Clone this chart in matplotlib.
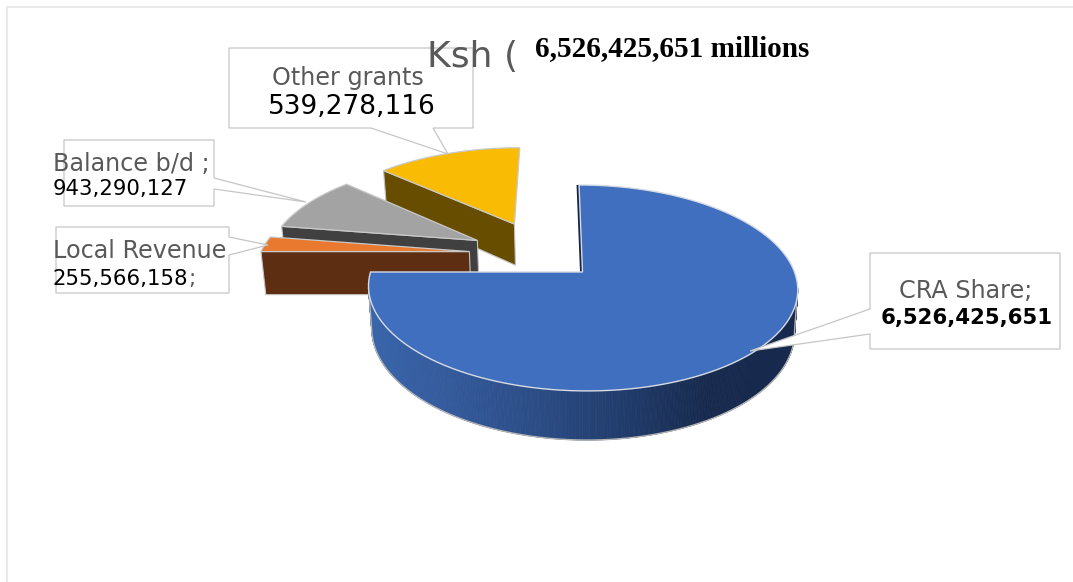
import numpy as np
import matplotlib
matplotlib.use('Agg')
import matplotlib.pyplot as plt
from matplotlib.colors import LinearSegmentedColormap

# slice shares in percent, as drawn in the picture (they do not follow the printed labels)
categories = ['CRA Share', 'Local Revenue', 'Balance b/d', 'Other grants']
shares = [75.0, 2.5, 9.2, 13.3]
names = ['CRA Share;', 'Local Revenue', 'Balance b/d ;', 'Other grants']
amounts = ['6,526,425,651', '255,566,158', '943,290,127', '539,278,116']
title_left = 'Ksh ('
title_over = '6,526,425,651 millions'

# look of the slices
top_colors = ['#3f6fbe', '#e8792e', '#a3a3a3', '#f9bb04']
side_colors = ['#1c3360', '#5e2e12', '#404040', '#664d00']
explode = [(0.0, 0.0), (-0.547, 0.21), (-0.515, 0.33), (-0.337, 0.515)]

# projection of the pie disc on the picture
x0, y0 = 582.5, 272
rx, ry, persp, lean = 212, 100.5, 0.155, 4
depth, depth_out, shrink = 41.5, 44.5, 0.985


def project(u, v, low=False, d=depth):
    w = 1 + persp * v
    x = (rx * u - lean * v) / w
    y = y0 - ry * v / w
    if low:
        return x0 + shrink * x, y + d / w
    return x0 + x, y


def slice_top(a0, a1, off, r=1.0):
    t = np.radians(np.linspace(a0, a1, 120))
    u = np.r_[0, r * np.sin(t)] + off[0]
    v = np.r_[0, r * np.cos(t)] + off[1]
    return u, v


fig = plt.figure(figsize=(10.73, 5.82), dpi=100)
ax = fig.add_axes([0, 0, 1, 1])
ax.set_xlim(0, 1073)
ax.set_ylim(582, 0)
ax.axis('off')

# chart frame
ax.plot([7, 7, 1073], [582, 7, 7], color='#e9e9e9', lw=1.5, zorder=1)

edges = np.cumsum(np.r_[0, shares]) * 3.6

# exploded slices, back to front
z = 2
for i in [3, 2, 1]:
    off = explode[i]
    a0, a1 = edges[i], edges[i + 1]
    a = np.radians(a0)
    u = np.array([1.015 * np.sin(a), 0]) + off[0]
    v = np.array([1.015 * np.cos(a), 0]) + off[1]
    xt, yt = project(u, v)
    xb, yb = project(u, v, low=True, d=depth_out)
    ax.fill(np.r_[xt, xb[::-1]], np.r_[yt, yb[::-1]], fc=side_colors[i], ec='#c4c4c4', lw=0.8, zorder=z)
    u, v = slice_top(a0, a1, off, r=1.015)
    xt, yt = project(u, v)
    ax.fill(xt, yt, fc=top_colors[i], ec='#c9c9c9', lw=0.9, zorder=z + 1)
    z += 2

# big slice: curved wall with a left to right shading, only the part in sight
wall = LinearSegmentedColormap.from_list('wall', ['#3a66ab', '#33599a', '#2b4c85', '#213c6c',
                                                  '#172a4e', '#172a4e'])
t = np.radians(np.linspace(99, 261, 400))
xt, yt = project(np.sin(t), np.cos(t))
xb, yb = project(np.sin(t), np.cos(t), low=True)
for j in range(len(t) - 1):
    col = wall(1 - np.clip((792 - xt[j]) / 424, 0, 1))
    ax.fill([xt[j], xt[j + 1], xb[j + 1], xb[j]], [yt[j], yt[j + 1], yb[j + 1], yb[j]],
            fc=col, ec=col, lw=0.6, zorder=z)
ax.plot(np.r_[xt[0], xb, xt[-1]], np.r_[yt[0], yb, yt[-1]], color='#b5b5b5', lw=1.0, zorder=z)

# thin sliver of the inner wall, seen in the gap
xs, ys = project(np.array([0, 0]), np.array([1, 0]))
ax.fill(np.r_[xs, xs[::-1] - 2.5], np.r_[ys, ys[::-1]], fc='#14264a', ec='none', zorder=z)

u, v = slice_top(edges[0], edges[1], explode[0])
xt, yt = project(u, v)
ax.fill(xt, yt, fc=top_colors[0], ec='#d6dbe4', lw=1.0, zorder=z + 1)
z += 2

# callouts: box outline with the pointer built in
callouts = [
    [(229, 48), (473, 48), (473, 128), (433, 128), (448, 154), (371, 128), (229, 128)],
    [(64, 140), (214, 140), (214, 178), (306, 202), (214, 189), (214, 206), (64, 206)],
    [(56, 227), (229, 227), (229, 237), (268, 245), (229, 255), (229, 293), (56, 293)],
    [(870, 253), (1060, 253), (1060, 349), (870, 349), (870, 334), (750, 351), (870, 309)],
]
for pts in callouts:
    pts = np.array(pts)
    ax.fill(pts[:, 0], pts[:, 1], fc='white', ec='#c6c6c6', lw=0.9, zorder=z)
z += 1

gray = '#595959'
ax.text(427, 57, title_left, color=gray, fontsize=26, ha='left', va='center', zorder=z)
ax.text(535, 49, title_over, color='black', fontsize=21.1, family='Liberation Serif',
        weight='bold', ha='left', va='center', zorder=z)

ax.text(348, 78, names[3], color=gray, fontsize=17.2, ha='center', va='center', zorder=z)
ax.text(352, 107, amounts[3], color='black', fontsize=19, ha='center', va='center', zorder=z)

ax.text(53, 164, names[2], color=gray, fontsize=17.2, ha='left', va='center', zorder=z)
ax.text(53, 189, amounts[2], color='black', fontsize=15.3, ha='left', va='center', zorder=z)

ax.text(53, 251, names[1], color=gray, fontsize=17.2, ha='left', va='center', zorder=z)
lab = ax.text(53, 279, amounts[1], color='black', fontsize=15.3, ha='left', va='center', zorder=z)
ax.annotate(';', xy=(1, 0.5), xycoords=lab, color=gray, fontsize=15.3, ha='left', va='center',
            zorder=z)

ax.text(966, 291, names[0], color=gray, fontsize=17.2, ha='center', va='center', zorder=z)
ax.text(967, 318, amounts[0], color='black', fontsize=15.3, weight='bold', ha='center',
        va='center', zorder=z)

fig.savefig('out.png', dpi=100)
